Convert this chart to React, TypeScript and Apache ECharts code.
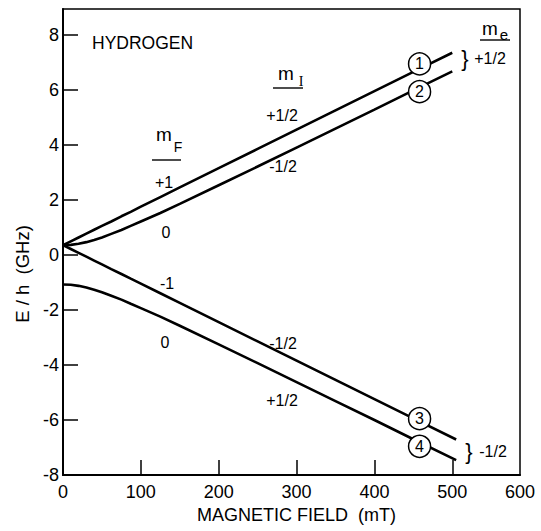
import React, { useEffect, useRef } from "react";
import * as echarts from "echarts";

// Magnetic field (mT) sample points
const fieldUpper = [0, 10, 20, 30, 40, 50, 62, 75, 87, 100, 125, 150, 200, 250, 300, 350, 400, 450, 500];
const fieldLower = [0, 10, 20, 30, 40, 50, 62, 75, 87, 100, 125, 150, 200, 250, 300, 350, 400, 450, 505];

// E/h (GHz) for the four hyperfine levels
const level1 = [0.36, 0.5, 0.64, 0.78, 0.92, 1.06, 1.22, 1.41, 1.57, 1.76, 2.11, 2.46, 3.16, 3.86, 4.56, 5.26, 5.96, 6.66, 7.36];
const level2 = [0.36, 0.37, 0.41, 0.47, 0.55, 0.64, 0.77, 0.91, 1.06, 1.22, 1.53, 1.86, 2.54, 3.22, 3.91, 4.6, 5.29, 5.99, 6.68];
const level3 = [0.36, 0.22, 0.08, -0.06, -0.2, -0.34, -0.51, -0.69, -0.86, -1.04, -1.39, -1.74, -2.44, -3.14, -3.84, -4.54, -5.24, -5.94, -6.71];
const level4 = [-1.07, -1.08, -1.12, -1.18, -1.26, -1.35, -1.48, -1.62, -1.77, -1.93, -2.24, -2.57, -3.25, -3.93, -4.62, -5.31, -6.0, -6.7, -7.46];

// numbered circles on the levels
const circleField = [458, 458, 458, 458];
const circleEnergy = [6.77, 6.09, -6.06, -6.81];
const circleLabels = ["1", "2", "3", "4"];

// axes
const xMin = 0;
const xMax = 587; // right frame edge, labelled 600 in the (scanned) original
const xTickValues = [100, 200, 300, 400, 500];
const xLabelValues = [0, 100, 200, 300, 400, 500, xMax];
const xTickLabels = ["0", "100", "200", "300", "400", "500", "600"];
const yMin = -8;
const yMax = 8.95;
const yTickValues = [-8, -6, -4, -2, 0, 2, 4, 6, 8];

const FONT = "Liberation Sans, Arial, Helvetica, sans-serif";

function zip(xs: number[], ys: number[]) {
  return xs.map((x, i) => [x, ys[i]]);
}

export default function App() {
  const ref = useRef<HTMLDivElement>(null);
  useEffect(() => {
    if (!ref.current) return;
    const chart = echarts.init(ref.current, null, { renderer: "svg" });
    const lineStyle = { color: "#000", width: 2.6 };
    const txt = (text: string, x: number, y: number, size = 16, family = FONT, align = "center") => ({
      type: "text",
      x,
      y,
      silent: true,
      style: {
        text,
        fill: "#000",
        fontSize: size,
        fontFamily: family,
        align,
        verticalAlign: "middle",
      },
    });
    const uline = (x1: number, x2: number, y: number) => ({
      type: "line",
      silent: true,
      shape: { x1, y1: y, x2, y2: y },
      style: { stroke: "#000", lineWidth: 1.4 },
    });
    const offsets = [
      [0, -5],
      [0, 4],
      [0, -3],
      [0, 4],
    ];
    chart.setOption({
      animation: false,
      backgroundColor: "#fff",
      grid: {
        left: 63,
        top: 9,
        right: 21,
        bottom: 56,
        show: true,
        borderColor: "#000",
        borderWidth: 1.5,
        containLabel: false,
      },
      xAxis: {
        type: "value",
        min: xMin,
        max: xMax,
        name: "MAGNETIC FIELD  (mT)",
        nameLocation: "middle",
        nameGap: 31,
        nameTextStyle: { color: "#000", fontSize: 18, fontFamily: FONT, padding: [0, 0, 0, 10] },
        axisLine: { show: true, onZero: false, lineStyle: { color: "#000", width: 2 } },
        axisTick: {
          show: true,
          inside: true,
          length: 15,
          customValues: xTickValues,
          lineStyle: { color: "#000", width: 1.5 },
        },
        axisLabel: {
          show: true,
          customValues: xLabelValues,
          margin: 8,
          color: "#000",
          fontSize: 18,
          fontFamily: FONT,
          formatter: (v: number) => {
            const i = xLabelValues.indexOf(v);
            return i >= 0 ? xTickLabels[i] : "";
          },
        },
        splitLine: { show: false },
      },
      yAxis: {
        type: "value",
        min: yMin,
        max: yMax,
        name: "E / h  (GHz)",
        nameLocation: "middle",
        nameGap: 25,
        nameTextStyle: { color: "#000", fontSize: 18.5, fontFamily: FONT, padding: [0, 64, 0, 0] },
        axisLine: { show: true, onZero: false, lineStyle: { color: "#000", width: 2 } },
        axisTick: {
          show: true,
          inside: true,
          length: 15,
          customValues: yTickValues,
          lineStyle: { color: "#000", width: 1.5 },
        },
        axisLabel: {
          show: true,
          customValues: yTickValues,
          margin: 4,
          color: "#000",
          fontSize: 18,
          fontFamily: FONT,
        },
        splitLine: { show: false },
      },
      series: [
        { type: "line", data: zip(fieldUpper, level1), showSymbol: false, lineStyle, z: 2 },
        { type: "line", data: zip(fieldUpper, level2), showSymbol: false, lineStyle, z: 2 },
        { type: "line", data: zip(fieldLower, level3), showSymbol: false, lineStyle, z: 2 },
        { type: "line", data: zip(fieldLower, level4), showSymbol: false, lineStyle, z: 2 },
        {
          type: "scatter",
          z: 5,
          symbol: "circle",
          symbolSize: 22,
          itemStyle: { color: "#fff", borderColor: "#000", borderWidth: 1.5, opacity: 1 },
          label: {
            show: true,
            position: "inside",
            color: "#000",
            fontSize: 16,
            fontFamily: FONT,
            formatter: (p: any) => circleLabels[p.dataIndex],
          },
          data: circleField.map((f, i) => ({ value: [f, circleEnergy[i]], symbolOffset: offsets[i] })),
        },
      ],
      graphic: [
        txt("HYDROGEN", 92, 43, 17.5, FONT, "left"),
        // m_F column
        txt("m", 164, 134, 19),
        txt("F", 178, 147, 14),
        uline(152, 181, 160),
        txt("+1", 164, 182, 16),
        txt("0", 166, 232, 16),
        txt("-1", 167, 283, 16),
        txt("0", 165, 342, 16),
        // m_I column
        txt("m", 286, 73, 19),
        txt("I", 301, 81, 14, "Liberation Serif, Times New Roman, serif"),
        uline(273, 303, 88),
        txt("+1/2", 282, 115, 16),
        txt("-1/2", 283, 166, 16),
        txt("-1/2", 283, 343, 16),
        txt("+1/2", 282, 400, 16),
        // m_e column
        txt("m", 490, 28, 19),
        txt("e", 504, 34, 15),
        uline(480, 510, 40),
        txt("}", 465, 58, 22),
        txt("+1/2", 490, 58, 16),
        txt("}", 469, 451, 22),
        txt("-1/2", 493, 451, 16),
      ],
    });
    return () => chart.dispose();
  }, []);
  return (
    <div
      ref={ref}
      style={{ position: "absolute", left: 0, top: 0, width: 541, height: 531, background: "#fff" }}
    />
  );
}
